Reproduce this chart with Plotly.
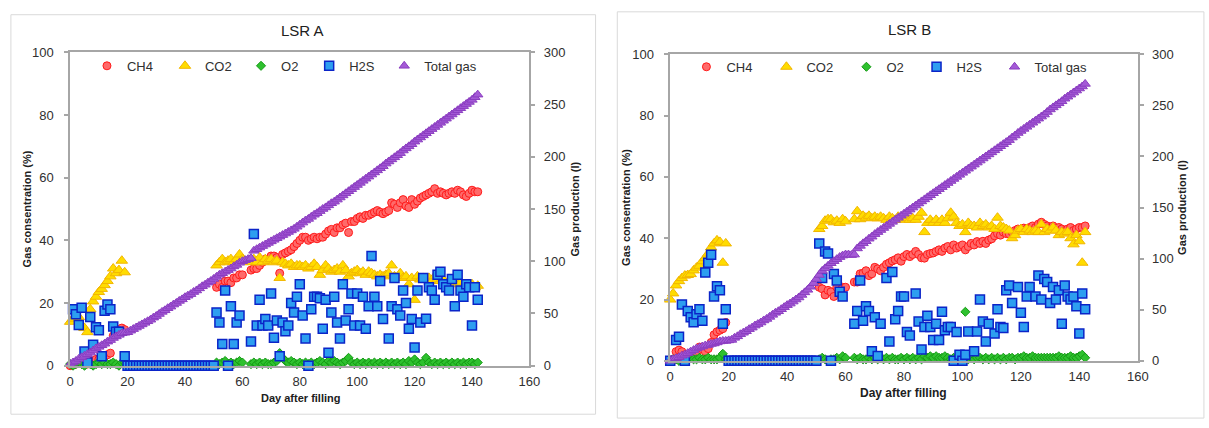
import plotly.graph_objects as go

W, H = 1209, 428

# ---------------- DATA : LSR A ----------------
gas_days_A = [0, 1, 2, 3, 4, 5, 6, 7, 8, 9, 10, 11, 12, 13, 14, 15, 16, 17, 18, 19,
              51, 52, 53, 54, 55, 56, 57, 58, 59, 60,
              63, 64, 65, 66, 67, 68, 69, 70, 71, 72,
              73, 74, 75, 76, 77, 78, 79, 80, 81, 82,
              83, 84, 85, 86, 87, 88, 89, 90, 91, 92,
              93, 94, 95, 96, 97, 98, 99, 100, 101, 102,
              103, 104, 105, 106, 107, 108, 109, 110, 111, 112,
              113, 114, 115, 116, 117, 118, 119, 120, 121, 122,
              123, 124, 125, 126, 127, 128, 129, 130, 131, 132,
              133, 134, 135, 136, 137, 138, 139, 140, 141, 142]

ch4_A = [0, 0.5, 0.5, 1, 1, 1.5, 0.5, 1, 1.5, 2, 2, 2.5, 3, 3.5, 4, 9.5, 10.5, 11, 12, 11.5,
         25, 26, 25, 27, 27, 26.5, 28, 28, 29, 29,
         30.5, 31, 31, 32, 33, 34, 34, 35, 35, 34.5,
         29.5, 35.5, 36, 36.5, 37, 38, 39, 40, 41, 41,
         40, 40.5, 41, 40.5, 41, 41, 42, 43, 43.5, 42.5,
         44, 44, 45, 45.5, 42.5, 46, 46, 47, 47.5, 47,
         48, 48, 48.5, 49, 49.5, 49, 48.5, 49, 49.5, 52,
         51.5, 50.5, 52, 53, 51, 50.5, 53, 51.5, 52.5, 53.5,
         54, 54.5, 55, 55.5, 56.5, 55, 55.5, 55, 54.5, 55,
         55.5, 55, 56, 55.5, 54.5, 54, 55, 56, 55.5, 55.5]

co2_A = [14, 15, 16, 15.5, 13, 12, 10.7, 18, 20.5, 22, 23.5, 24.5, 25.7, 27, 28.5, 31, 29.5, 30.5, 33.5, 29.8,
         32, 33, 34, 33, 33.5, 34, 33, 34, 35.5, 34,
         33, 34, 33, 34.5, 33, 34, 33.5, 34, 33, 33.5,
         28, 33, 32.5, 32, 32.5, 31.5, 32, 32, 31.5, 32,
         31, 31.5, 32.5, 31.5, 29, 30.5, 32, 31, 30, 30.5,
         31, 30, 32, 30.5, 28.5, 29.5, 30, 30.5, 29.5, 30,
         29, 30, 29.5, 29, 28.5, 29, 28.5, 29, 29.5, 32,
         28.5, 28, 29.5, 28, 28.5, 26, 28, 21, 28.5, 27.5,
         28, 27.5, 28, 27, 28.5, 27.5, 27, 27.5, 26, 27,
         26.5, 27, 26, 26.5, 25.5, 26, 25.5, 26, 25, 25.5]

o2_A = [0.5, 0, 0.5, 1, 0.5, 0, 1, 0.5, 0, 0.5, 1, 0.5, 1, 0.5, 0.5, 1, 0.5, 0, 1, 1,
        1, 0.5, 1, 1.5, 0.5, 1, 0.5, 1, 1.5, 1,
        0.5, 1, 0.5, 1, 0.5, 1, 0.5, 0.5, 1, 1.5,
        4, 2.5, 1.5, 1, 1.5, 1, 0.5, 1, 0.5, 1,
        0.5, 1, 0.5, 1, 1.5, 1, 0.5, 1.5, 1, 1.5,
        1, 0.5, 1, 1.5, 2.5, 1, 0.5, 1, 0.5, 1,
        0.5, 1, 0.5, 1, 0.5, 1, 0.5, 1, 0.5, 1,
        0.5, 1, 0.5, 1, 0.5, 1.5, 1, 2, 1, 0.5,
        1, 2.5, 1, 0.5, 1, 0.5, 1, 0.5, 1, 0.5,
        1, 0.5, 1, 0.5, 1, 0.5, 1, 1, 0.5, 1]

h2s_days_A = [1, 2, 3, 4, 5, 6, 7, 8, 9, 10, 11, 12, 13, 14, 15, 16, 17, 19,
              20, 21, 22, 23, 24, 25, 26, 27, 28, 29, 30, 31, 32, 33, 34, 35,
              36, 37, 38, 39, 40, 41, 42, 43, 44, 45, 46, 47, 48, 49, 50,
              51, 52, 53, 54, 55, 56, 57, 58, 59,
              63, 64, 65, 66, 67, 68, 69, 70, 71, 72, 73, 74, 75, 76, 77, 78, 79, 80,
              81, 82, 83, 84, 85, 86, 87, 88, 89, 90, 91, 92, 93, 94, 95, 96, 97, 98,
              99, 100, 101, 102, 103, 104, 105, 106, 107, 108, 109, 111, 112, 113, 114,
              115, 116, 117, 118, 119, 120, 121, 122, 123, 124, 125, 126, 127, 128, 129,
              130, 131, 132, 133, 134, 135, 136, 137, 138, 139, 140, 141, 142]
h2s_A = [18, 16.4, 13, 18.5, 4.5, 1, 15.5, 6.7, 12.3, 11.3, 3, 17.5, 19.5, 18, 12.5, 10.8, 10.8, 3,
         0, 0, 0, 0, 0, 0, 0, 0, 0, 0, 0, 0, 0, 0, 0, 0,
         0, 0, 0, 0, 0, 0, 0, 0, 0, 0, 0, 0, 0, 0, 0,
         17, 13.8, 6.9, 24, 0, 19, 6.9, 13.8, 16,
         7.7, 42, 12.8, 21, 12.8, 14.9, 12.8, 23, 8.9, 14.4, 3, 13.8, 11, 12.8, 20, 17, 22, 26,
         16, 8.7, 0, 18, 22, 22, 21.5, 11.8, 21, 4.1, 17, 22, 13.8, 8.7, 26, 14.4, 18, 23,
         12.8, 23, 12.8, 22, 11.8, 19, 35, 22, 19, 27, 14.9, 8.7, 19, 28, 18,
         16, 24, 20, 11.8, 14.9, 5.8, 24, 13.8, 28, 15, 25, 24, 21, 29, 30,
         26, 25, 24, 27.7, 19, 29, 24, 22, 26, 25, 12.8, 25, 21]

total_days_A = list(range(0, 143))
total_A = [1.5, 3, 4.5, 6.5, 8, 9.5, 11, 12.5, 14.5, 16.5,
           18, 19.5, 21, 23, 24.5, 26.5, 28, 29.5, 31, 31.5,
           32, 33.5, 35, 36.5, 38, 39.5, 41, 42.5, 44, 46,
           47.5, 49.5, 51.5, 53, 55, 56.5, 58.5, 60, 62, 63.5,
           65.5, 67, 68.5, 70.5, 72, 74, 76, 77.5, 79.5, 81,
           83, 85, 87, 88.5, 90, 91.5, 93, 95, 96.5, 98.5,
           100, 101, 102, 103, 110, 111.5, 113, 114.5, 116, 117.5,
           119, 120.5, 122, 123.5, 125, 126.5, 128, 129.5, 131, 133,
           135, 137, 139, 140.5, 142.5, 144.5, 146, 148, 150, 151.5,
           153.5, 155.5, 157, 159, 161, 163, 165, 167, 169, 171,
           173, 175, 177, 179, 181, 183, 185, 187, 189, 191,
           193.5, 195.5, 197.5, 199.5, 201.5, 203.5, 206, 208, 210, 212,
           214.5, 216.5, 218.5, 220.5, 222.5, 224.5, 226.5, 228.5, 230.5, 232.5,
           234.5, 236.5, 238.5, 240.5, 242.5, 244.5, 246.5, 248.5, 250.5, 252.5,
           254.5, 257, 259.5]

# ---------------- DATA : LSR B ----------------
gas_days_B = gas_days_A[:]  # same sampling days

ch4_B = [0, 0.5, 3, 3.5, 3, 2, 1, 1.5, 2, 2.5, 4.5, 4.5, 3, 4, 6, 8.5, 9.5, 10, 10.5, 12.5,
         24, 23.5, 21.5, 23, 22.5, 21, 24, 22.5, 24, 24,
         25.7, 25.7, 28.4, 28.6, 29.4, 27.8, 28.4, 30.5, 30, 29.4,
         30.5, 31.5, 32, 32.6, 33, 33.6, 32.5, 34, 34.7, 34,
         34.7, 35.7, 34.7, 33.6, 33.5, 34.7, 35, 35.2, 35.7, 36.2,
         35.7, 36.8, 37.3, 36.2, 37.8, 36.8, 37.3, 37.8, 36.2, 37.3,
         38.3, 37.8, 38.9, 38.3, 39, 38.3, 39.4, 39.8, 40.8, 41.5,
         41, 42, 41.5, 41.4, 42, 42.5, 43, 42.9, 43.3, 43,
         43.5, 44, 43.5, 44.6, 45.2, 44.5, 44, 43.5, 44, 43,
         43.5, 43, 42.5, 43, 43.5, 42.5, 43, 43.5, 43.5, 44]

co2_B = [20, 22, 24.6, 26, 27, 27.8, 28, 28.3, 29.5, 30.4, 31, 32.5, 33.5, 35, 37, 38.3, 39.3, 38.8, 32, 38.3,
         43, 44, 45.7, 46.2, 46.2, 45.2, 45.7, 45, 46.2, 45.5,
         46.2, 48.8, 46.2, 47.3, 46.7, 47.3, 46.5, 47, 46.5, 47,
         46.5, 46, 47, 46.5, 46, 47, 46.5, 46, 46.5, 46,
         46.5, 46, 47, 48.3, 42, 45, 46, 45, 46, 45,
         46, 45, 46.5, 48.3, 47, 45, 44, 44.5, 42, 45,
         44, 44, 43.5, 45, 44, 44.5, 43.5, 44, 43, 46.7,
         44, 43.5, 43, 42.5, 40, 41, 42.5, 43, 42, 43,
         42.5, 42, 42.5, 42, 44.5, 42, 43, 42.5, 43.5, 42.5,
         41, 42, 41.5, 42, 40, 38, 41, 39, 32, 42]

o2_B = [0, 0.5, 0.5, 0, 0.5, 1, 0.5, 1, 0.5, 0.5, 1, 0.5, 0.5, 1, 0.5, 0.5, 0.5, 1, 2.3, 0.5,
        0.5, 1, 0.5, 0, 0.5, 0.5, 1, 0.5, 1.5, 1,
        1, 0.5, 1, 0.5, 0.5, 1, 0.5, 1, 0.5, 1,
        0.5, 1, 0.5, 1, 0.5, 0.5, 1, 0.5, 1, 0.5,
        1, 0.5, 1, 0.5, 1.5, 1, 1.5, 1, 1.5, 1,
        1, 1.5, 1, 0.5, 1, 0.5, 0.5, 1, 16, 0.5,
        1, 0.5, 1, 1, 0.5, 1, 0.5, 1, 0.5, 1,
        0.5, 1, 0.5, 1, 1, 0.5, 1, 1, 1.5, 1,
        1, 1.5, 1, 1, 1, 1, 1, 1, 1, 1,
        1.5, 1, 1, 1, 1.5, 1, 1, 1.5, 2, 1]

h2s_days_B = [0, 2, 3, 4, 5, 6, 7, 8, 9, 10, 11, 12, 13, 14, 15, 16, 17, 18, 19,
              20, 21, 22, 23, 24, 25, 26, 27, 28, 29, 30, 31, 32, 33, 34, 35,
              36, 37, 38, 39, 40, 41, 42, 43, 44, 45, 46, 47, 48, 49, 50,
              51, 52, 53, 54, 55, 56, 57, 58, 59,
              63, 64, 65, 66, 67, 68, 69, 70, 71, 72, 74, 75, 76, 77, 78, 79, 80,
              81, 82, 84, 85, 86, 87, 88, 89, 90, 91, 92, 93, 94, 95, 96, 97, 98,
              99, 100, 101, 102, 104, 105, 106, 107, 108, 109, 111, 112, 113, 114,
              115, 116, 117, 119, 120, 121, 122, 123, 125, 126, 127, 128, 129,
              130, 131, 132, 133, 134, 135, 136, 137, 138, 139, 140, 141, 142]
h2s_B = [0, 6.8, 7.9, 18.4, 0, 16.3, 14.2, 12.6, 15.2, 16.8, 13.1, 28.8, 32, 34.6, 21, 24.3, 23, 12.1, 16.8,
         0, 0, 0, 0, 0, 0, 0, 0, 0, 0, 0, 0, 0, 0, 0, 0,
         0, 0, 0, 0, 0, 0, 0, 0, 0, 0, 0, 0, 0, 0, 0,
         38.3, 27, 35.7, 35, 0, 28.3, 26.2, 22.5, 21,
         12.1, 16.3, 26.2, 13.1, 17.8, 16.3, 3.1, 14.2, 1.6, 12.1, 27, 6.3, 29, 13.6, 16.3, 21, 21,
         9.4, 8.3, 22, 12.8, 3.7, 11, 14.7, 11, 6.8, 12.1, 6.8, 16, 10, 11, 11, 0, 9.4,
         2, 0, 2, 9.6, 3.1, 9.6, 20, 12.8, 6.3, 12.1, 8.9, 16.8, 11, 10.7,
         23, 24.6, 18.9, 24.1, 15.7, 11, 21, 24.1, 21, 27.8, 20, 26.7, 25.7,
         18.9, 24.1, 20, 23, 12.1, 24.6, 21, 20, 21, 17.8, 8.9, 22, 16.8]

total_days_B = list(range(0, 143))
total_B = [0, 1.5, 2.5, 3.5, 5, 6, 7.5, 9, 10.5, 12,
           13, 14, 15, 15.5, 16.5, 17, 18, 19, 19.5, 19.5,
           20, 20.5, 22.5, 24, 26, 27.5, 29, 31, 32.5, 34.5,
           36, 37.5, 39.5, 41, 43, 45, 47, 48.5, 50.5, 52.5,
           54.5, 56, 58, 60, 62, 64.5, 67, 69.5, 72.5, 76,
           80, 84, 88, 90.5, 93, 95.5, 97.5, 99.5, 101.5, 103,
           104, 104, 103.5, 104, 110, 112.5, 115, 117, 119.5, 121.5,
           124, 126, 128, 130, 132, 134, 136, 138, 140, 142,
           144, 146, 148, 150, 152, 154, 156, 158, 160, 162,
           164, 166, 168, 170, 172, 174, 176, 178, 180, 182,
           184, 186, 188, 190, 192, 194, 196, 198, 200, 202,
           204, 206, 208, 210, 212, 214, 216, 218.5, 220.5, 223,
           225, 227, 229, 231, 233, 235, 237, 239, 241, 243.5,
           246, 248, 250, 252, 254, 256.5, 258.5, 260.5, 262.5, 264.5,
           266.5, 268.5, 271]

series_names = ["CH4", "CO2", "O2", "H2S", "Total gas"]
titles = ["LSR A", "LSR B"]
x_ticks = [0, 20, 40, 60, 80, 100, 120, 140, 160]
y_ticks = [0, 20, 40, 60, 80, 100]
y2_ticks = [0, 50, 100, 150, 200, 250, 300]

# ---------------- STYLE ----------------
FONT = "Arial, Liberation Sans, sans-serif"
AX = "#a6a6a6"
TXT = "#303030"

styles = {
    "CH4": dict(symbol="circle", size=8, color="#ff6a6a", line=dict(color="#ff1a1a", width=1)),
    "CO2": dict(symbol="triangle-up", size=10, color="#ffdc00", line=dict(color="#f2b600", width=1)),
    "O2": dict(symbol="diamond", size=7, color="#2ec12e", line=dict(color="#149a14", width=1)),
    "H2S": dict(symbol="square", size=9, color="#2d9ef0", line=dict(color="#0b24c8", width=1.5)),
    "Total gas": dict(symbol="triangle-up", size=9, color="#a45ad6", line=dict(color="#8a3cc0", width=1)),
}

# legend marker centres (px) of each series, per panel
legend_marks_A = [119, 198, 275, 344, 420]
legend_marks_B = [726, 807, 888, 959, 1038]


def px(x):
    return x / W


def py(y):
    return 1 - y / H


fig = go.Figure()

panels = [
    dict(xa="x", ya="y", ya2="y2", leg_off=0, marks=legend_marks_A, ly=61,
         days=gas_days_A, ch4=ch4_A, co2=co2_A, o2=o2_A,
         hd=h2s_days_A, h2s=h2s_A, td=total_days_A, tot=total_A),
    dict(xa="x2", ya="y3", ya2="y4", leg_off=5, marks=legend_marks_B, ly=62,
         days=gas_days_B, ch4=ch4_B, co2=co2_B, o2=o2_B,
         hd=h2s_days_B, h2s=h2s_B, td=total_days_B, tot=total_B),
]

legends = {}
for p in panels:
    data = {
        "CH4": (p["days"], p["ch4"], p["ya"]),
        "CO2": (p["days"], p["co2"], p["ya"]),
        "O2": (p["days"], p["o2"], p["ya"]),
        "H2S": (p["hd"], p["h2s"], p["ya"]),
        "Total gas": (p["td"], p["tot"], p["ya2"]),
    }
    for i, name in enumerate(series_names):
        k = p["leg_off"] + i + 1
        lname = "legend" if k == 1 else f"legend{k}"
        xs, ys, yax = data[name]
        fig.add_trace(go.Scatter(
            x=xs, y=ys, mode="markers", name=name,
            xaxis=p["xa"], yaxis=yax, legend=lname,
            marker=styles[name], cliponaxis=False,
        ))
        legends[lname] = dict(
            orientation="h", x=px(p["marks"][i] - 35), y=py(p["ly"]),
            xanchor="left", yanchor="middle", bgcolor="rgba(0,0,0,0)",
            font=dict(family=FONT, size=13, color=TXT), itemwidth=30)

# plot areas in pixels
A = dict(x0=67, x1=532, y0=47, y1=371.7)
B = dict(x0=674.6, x1=1148, y0=49, y1=366.7)

common_x = dict(range=[0, 160], tickvals=x_ticks, showgrid=False, zeroline=False,
                showline=True, linecolor=AX, linewidth=1.5, mirror=True, ticks="",
                tickfont=dict(family=FONT, size=13, color=TXT), ticklabelstandoff=3)
common_y = dict(range=[0, 100], tickvals=y_ticks, showgrid=False, zeroline=False,
                showline=True, linecolor=AX, linewidth=1.5, ticks="outside", ticklen=4,
                tickcolor=AX, tickwidth=1.5,
                tickfont=dict(family=FONT, size=13, color=TXT), ticklabelstandoff=8)
common_y2 = dict(range=[0, 300], tickvals=y2_ticks, showgrid=False, zeroline=False,
                 showline=True, linecolor=AX, linewidth=1.5, ticks="outside", ticklen=4,
                 tickcolor=AX, tickwidth=1.5, side="right",
                 tickfont=dict(family=FONT, size=13, color=TXT), ticklabelstandoff=6)

fig.update_layout(
    autosize=True, margin=dict(l=0, r=0, t=0, b=0, pad=0),
    paper_bgcolor="white", plot_bgcolor="white",
    font=dict(family=FONT, size=12, color=TXT),
    xaxis=dict(domain=[px(A["x0"]), px(A["x1"])], anchor="y", **common_x),
    yaxis=dict(domain=[py(A["y1"]), py(A["y0"])], anchor="x", **common_y),
    yaxis2=dict(overlaying="y", anchor="x", **common_y2),
    xaxis2=dict(domain=[px(B["x0"]), px(B["x1"])], anchor="y3", **common_x),
    yaxis3=dict(domain=[py(B["y1"]), py(B["y0"])], anchor="x2", **common_y),
    yaxis4=dict(overlaying="y3", anchor="x2", **common_y2),
    showlegend=True,
    **legends,
)

# panel frames (the right panel runs off the right edge of the picture)
for (x0, y0, x1, y1) in [(7, 8, 599, 422), (621, 5, 1215, 426)]:
    fig.add_shape(type="rect", xref="paper", yref="paper",
                  x0=px(x0), x1=px(x1), y0=py(y1), y1=py(y0),
                  line=dict(color="#d9d9d9", width=1), fillcolor="rgba(0,0,0,0)", layer="below")

# titles and axis titles
ann = [
    (titles[0], 302, 24, 0, 15, False),
    (titles[1], 917, 23, 0, 15, False),
    ("Day after filling", 300, 405, 0, 11, True),
    ("Day after filling", 911, 400, 0, 12, True),
    ("Gas consentration (%)", 23, 209, -90, 11, True),
    ("Gas production (l)", 578, 209, -90, 11, True),
    ("Gas consentration (%)", 630, 208, -90, 11, True),
    ("Gas production (l)", 1193, 208, -90, 11, True),
]
for text, x, y, ang, size, bold in ann:
    fig.add_annotation(text=f"<b>{text}</b>" if bold else text, x=px(x), y=py(y),
                       xref="paper", yref="paper", showarrow=False, textangle=ang,
                       xanchor="center", yanchor="middle",
                       font=dict(family=FONT, size=size, color="#202020"))

fig.write_html("out.html",
               default_width="100vw", default_height="100vh",
               config={"displayModeBar": False, "responsive": True},
               post_script="document.body.style.margin='0px';document.body.style.overflow='hidden';"
                           "window.dispatchEvent(new Event('resize'));")
